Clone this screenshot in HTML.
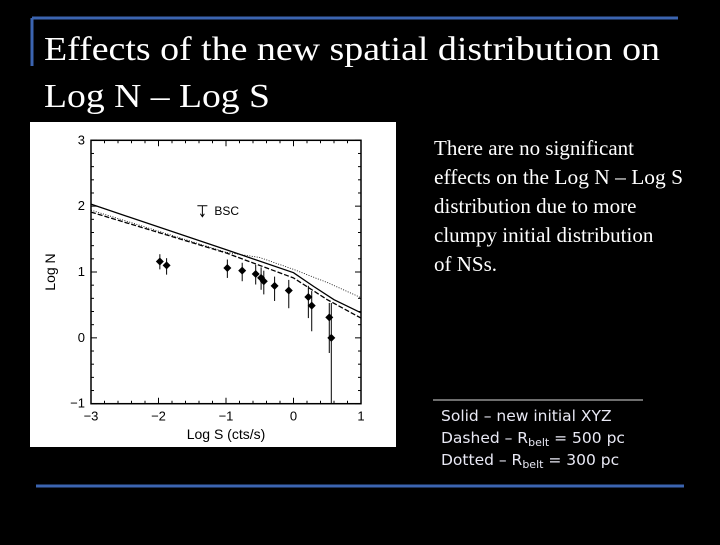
<!DOCTYPE html>
<html><head><meta charset="utf-8"><style>
html,body{margin:0;padding:0;background:#000;}
body{width:720px;height:540px;overflow:hidden;position:relative;}
</style></head><body>
<svg width="720" height="540" xmlns="http://www.w3.org/2000/svg">
<rect x="0" y="0" width="720" height="540" fill="#000"/>
<line x1="32" y1="18" x2="678" y2="18" stroke="#3b64b0" stroke-width="3"/>
<line x1="32" y1="18" x2="32" y2="66" stroke="#3b64b0" stroke-width="3"/>
<line x1="36" y1="486" x2="684" y2="486" stroke="#3b64b0" stroke-width="3"/>
<text x="44" y="60" font-family="Liberation Serif, serif" font-size="34" fill="#fff" textLength="616" lengthAdjust="spacingAndGlyphs">Effects of the new spatial distribution on</text>
<text x="44" y="107" font-family="Liberation Serif, serif" font-size="34" fill="#fff" textLength="226" lengthAdjust="spacingAndGlyphs">Log N – Log S</text>
<g font-family="Liberation Serif, serif" font-size="21" fill="#fff">
<text x="434" y="155">There are no significant</text>
<text x="434" y="184" textLength="249" lengthAdjust="spacingAndGlyphs">effects on the Log N – Log S</text>
<text x="434" y="213">distribution due to more</text>
<text x="434" y="242">clumpy initial distribution</text>
<text x="434" y="271">of NSs.</text>
</g>
<line x1="433" y1="400" x2="643" y2="400" stroke="#ddd" stroke-width="1"/>
<g font-family="DejaVu Sans, sans-serif" font-size="15.5" fill="#e8e8f4">
<text x="441" y="421">Solid – new initial XYZ</text>
<text x="441" y="443">Dashed – R<tspan font-size="11" dy="3">belt</tspan><tspan dy="-3"> = 500 pc</tspan></text>
<text x="441" y="465">Dotted  – R<tspan font-size="11" dy="3">belt</tspan><tspan dy="-3"> = 300 pc</tspan></text>
</g>
<rect x="30" y="122" width="366" height="325" fill="#fff"/>
<g id="chart"></g>
</svg>
<script>
const xTicks=[-3,-2,-1,0,1];
const yTicks=[-1,0,1,2,3];
const ptX=[-1.98,-1.88,-0.98,-0.76,-0.56,-0.48,-0.44,-0.28,-0.07,0.22,0.27,0.53,0.56];
const ptY=[1.16,1.10,1.06,1.02,0.97,0.91,0.86,0.79,0.72,0.62,0.49,0.31,0.0];
const errLo=[1.04,0.96,0.91,0.86,0.81,0.73,0.66,0.56,0.45,0.30,0.10,-0.23,-1.0];
const errHi=[1.27,1.21,1.19,1.14,1.11,1.07,1.02,0.93,0.88,0.79,0.71,0.53,0.53];
const solidX=[-3,-1,0,0.3,0.6,1];
const solidY=[2.03,1.34,0.99,0.78,0.58,0.38];
const dashX=[-3,-1,0,0.5,1];
const dashY=[1.91,1.29,0.91,0.58,0.30];
const dotX=[-3,-1,-0.5,0,0.5,1];
const dotY=[1.94,1.30,1.22,1.04,0.84,0.61];
const NS='http://www.w3.org/2000/svg';
const g=document.getElementById('chart');
const L=91,R=361,T=140.3,B=403.7;
const sx=v=>L+(v+3)/4*(R-L);
const sy=v=>B-(v+1)/4*(B-T);
function mk(t,a,p){const e=document.createElementNS(NS,t);for(const k in a)e.setAttribute(k,a[k]);(p||g).appendChild(e);return e;}
const frame=mk('rect',{x:L,y:T,width:R-L,height:B-T,fill:'none',stroke:'#000','stroke-width':1.5});


for(let v=-3;v<=1.001;v+=0.2){const x=sx(v);const big=Math.abs(v-Math.round(v))<0.01;const len=big?6:3;
 mk('line',{x1:x,y1:B,x2:x,y2:B-len,stroke:'#000'});mk('line',{x1:x,y1:T,x2:x,y2:T+len,stroke:'#000'});}
for(let v=-1;v<=3.001;v+=0.2){const y=sy(v);const big=Math.abs(v-Math.round(v))<0.01;const len=big?6:3;
 mk('line',{x1:L,y1:y,x2:L+len,y2:y,stroke:'#000'});mk('line',{x1:R,y1:y,x2:R-len,y2:y,stroke:'#000'});}
xTicks.forEach(v=>{const t=mk('text',{x:sx(v),y:B+17,'text-anchor':'middle','font-family':'Liberation Sans, sans-serif','font-size':13,fill:'#000'});t.textContent=v<0?'\u2212'+(-v):v;
 
 });
yTicks.forEach(v=>{const t=mk('text',{x:L-6,y:sy(v)+4,'text-anchor':'end','font-family':'Liberation Sans, sans-serif','font-size':13,fill:'#000'});t.textContent=v<0?'\u2212'+(-v):v;
 
 });
const xt=mk('text',{x:226,y:439,'text-anchor':'middle','font-family':'Liberation Sans, sans-serif','font-size':14,fill:'#000'});xt.textContent='Log S (cts/s)';


const yt=mk('text',{x:55,y:272,'text-anchor':'middle','font-family':'Liberation Sans, sans-serif','font-size':14,fill:'#000',transform:'rotate(-90 55 272)'});yt.textContent='Log N';


function line(xs,ys,dash,name){const d=xs.map((v,i)=>(i?'L':'M')+sx(v)+','+sy(ys[i])).join(' ');
 const p=mk('path',{d:d,fill:'none',stroke:'#000','stroke-width':dash==='1 1.5'?0.8:1.3,'stroke-dasharray':dash});
 
 }
line(dotX,dotY,'1 1.5','dotted-line');
line(dashX,dashY,'5 2','dashed-line');
line(solidX,solidY,'none','solid-line');
ptX.forEach((v,i)=>{const x=sx(v);
 const e=mk('line',{x1:x,y1:sy(errLo[i]),x2:x,y2:sy(errHi[i]),stroke:'#000','stroke-width':1});
 
 
 const s=4;const c=mk('path',{d:`M${x},${sy(ptY[i])-s} L${x+s},${sy(ptY[i])} L${x},${sy(ptY[i])+s} L${x-s},${sy(ptY[i])} Z`,fill:'#000'});
 
 });
const bx=sx(-1.35),by=sy(1.93);
const bsc=mk('path',{d:`M${bx-5},${by-5} H${bx+5} M${bx},${by-5} V${by+6} M${bx-2},${by+3} L${bx},${by+6} L${bx+2},${by+3}`,stroke:'#000',fill:'none','stroke-width':1});


const bt=mk('text',{x:bx+12,y:by+4,'font-family':'Liberation Sans, sans-serif','font-size':12,fill:'#000'});bt.textContent='BSC';


</script>
</body></html>
